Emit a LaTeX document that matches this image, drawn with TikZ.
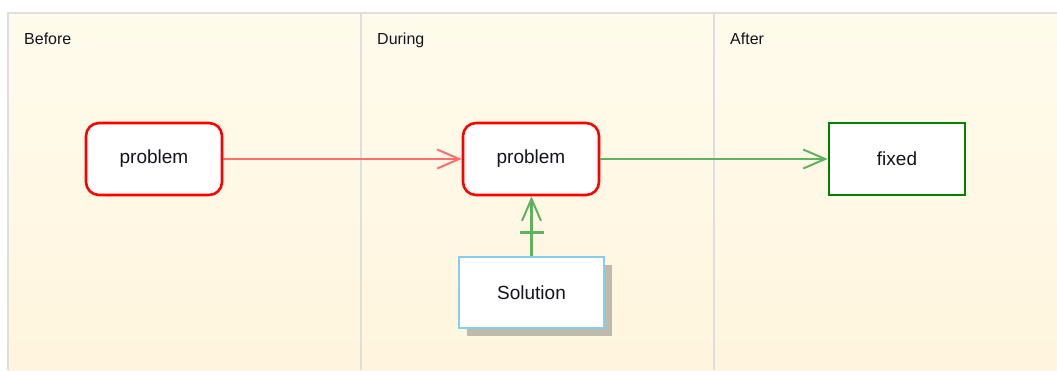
\documentclass[tikz,border=0pt]{standalone}
\usepackage{fontspec}
\setmainfont{Liberation Sans}
\usetikzlibrary{arrows.meta,shadows}
\definecolor{lanebg1}{RGB}{255,251,236}
\definecolor{lanebg2}{RGB}{255,245,222}
\definecolor{laneline}{RGB}{222,222,222}
\definecolor{probred}{RGB}{255,0,0}
\definecolor{arrred}{RGB}{255,110,110}
\definecolor{arrgreen}{RGB}{95,178,95}
\definecolor{fixgreen}{RGB}{0,128,0}
\definecolor{solblue}{RGB}{135,206,235}
\definecolor{shadowc}{RGB}{192,186,172}
\definecolor{txt}{RGB}{20,20,30}
\tikzset{
  lanelabel/.style={anchor=base west, inner sep=0, text=txt, font=\fontsize{16}{19}\selectfont},
  probbox/.style={draw=probred, line width=2.6pt, fill=white, rounded corners=13pt,
     minimum width=136pt, minimum height=72pt, text=txt, font=\fontsize{19}{22}\selectfont},
  fixbox/.style={draw=fixgreen, line width=2.6pt, fill=white,
     minimum width=136pt, minimum height=72pt, text=txt, font=\fontsize{19}{22}\selectfont},
  solbox/.style={draw=solblue, line width=2.6pt, fill=white,
     minimum width=145pt, minimum height=71pt, text=txt, font=\fontsize{19}{22}\selectfont,
     drop shadow={shadow xshift=8pt, shadow yshift=-8pt, fill=shadowc, opacity=1}},
  barb/.tip={Straight Barb[length=22pt,width=19pt,line width=2pt]},
  redflow/.style={draw=arrred, line width=2.2pt, -barb},
  greenflow/.style={draw=arrgreen, line width=2.2pt, -barb},
}
\begin{document}
\begin{tikzpicture}[x=1pt,y=-1pt]
\useasboundingbox (0,0) rectangle (1057,370);
\fill[white] (0,0) rectangle (1057,370);
\shade[top color=lanebg1, bottom color=lanebg2] (8,13) rectangle (1057,370);
\draw[laneline, line width=2.4pt] (8,370) -- (8,13) -- (1057,13);
\draw[laneline, line width=2.4pt] (361,13) -- (361,370);
\draw[laneline, line width=2.4pt] (714,13) -- (714,370);
\node[lanelabel] (lb) at (24,44) {Before};
\node[lanelabel] (ld) at (377,44) {During};
\node[lanelabel] (la) at (730,44) {After};

\node[probbox] (p1) at (154,159) {problem};
\node[probbox] (p2) at (531,159) {problem};
\node[fixbox] (fx) at (897,159) {fixed};
\node[solbox] (sol) at (531.5,292.5) {Solution};

\draw[redflow] (p1.east) -- (p2.west);
\draw[greenflow] (p2.east) -- (fx.west);
\draw[greenflow] (sol.north) -- (sol.north |- p2.south) coordinate[pos=0.39] (bar);
\draw[arrgreen, line width=2.2pt] ([xshift=-12pt]bar) -- ([xshift=12pt]bar);
\end{tikzpicture}
\end{document}
